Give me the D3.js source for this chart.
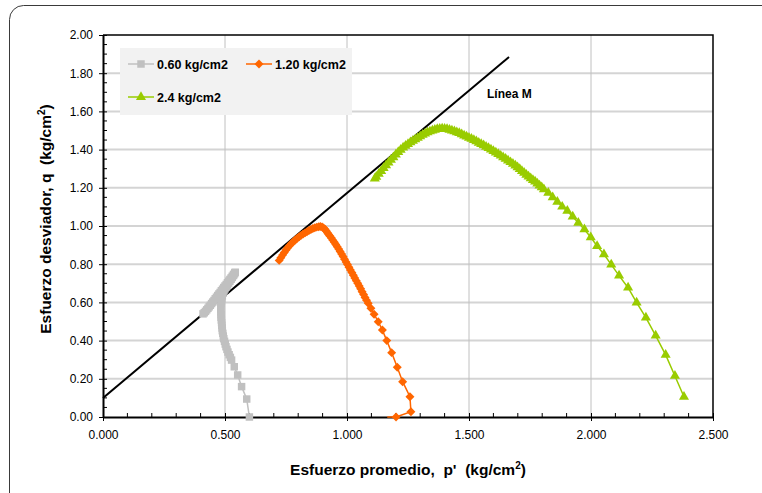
<!DOCTYPE html>
<html>
<head>
<meta charset="utf-8">
<script src="https://cdn.jsdelivr.net/npm/d3@7"></script>
<style>
  html, body { margin: 0; padding: 0; background: #ffffff; }
  svg { display: block; font-family: "Liberation Sans", Arial, sans-serif; }
  .pre { white-space: pre; }
</style>
</head>
<body>
<svg id="chart" width="762" height="493"></svg>
<script>
// ---------- DATA ----------
const xTicks = [0, 0.5, 1.0, 1.5, 2.0, 2.5];
const yTicks = [0, 0.2, 0.4, 0.6, 0.8, 1.0, 1.2, 1.4, 1.6, 1.8, 2.0];

const seriesNames = ["0.60 kg/cm2", "1.20 kg/cm2", "2.4 kg/cm2"];

// p', q for confinement 0.60 kg/cm2
const greyP = [0.600, 0.589, 0.568, 0.552, 0.538, 0.527, 0.522, 0.517, 0.512, 0.508, 0.504, 0.501, 0.498, 0.495, 0.493, 0.491, 0.489, 0.488, 0.487, 0.486, 0.485, 0.484, 0.484, 0.483, 0.483, 0.483, 0.484, 0.485, 0.487, 0.489, 0.492, 0.496, 0.500, 0.505, 0.510, 0.515, 0.520, 0.525, 0.530, 0.535, 0.539, 0.542, 0.540, 0.535, 0.530, 0.525, 0.520, 0.515, 0.510, 0.505, 0.500, 0.495, 0.490, 0.485, 0.480, 0.475, 0.470, 0.465, 0.460, 0.455, 0.450, 0.445, 0.440, 0.435, 0.430, 0.425, 0.420, 0.415, 0.410];
const greyQ = [0.000, 0.094, 0.159, 0.220, 0.263, 0.298, 0.312, 0.326, 0.340, 0.354, 0.368, 0.382, 0.396, 0.410, 0.424, 0.438, 0.452, 0.466, 0.480, 0.494, 0.508, 0.522, 0.536, 0.550, 0.564, 0.578, 0.592, 0.606, 0.620, 0.634, 0.648, 0.660, 0.671, 0.681, 0.691, 0.701, 0.711, 0.721, 0.731, 0.741, 0.750, 0.758, 0.755, 0.746, 0.737, 0.728, 0.720, 0.711, 0.703, 0.694, 0.686, 0.678, 0.669, 0.661, 0.652, 0.644, 0.636, 0.627, 0.619, 0.610, 0.602, 0.594, 0.585, 0.577, 0.569, 0.561, 0.553, 0.546, 0.540];

// p', q for confinement 1.20 kg/cm2
const orangeP = [1.165, 1.201, 1.262, 1.258, 1.228, 1.206, 1.183, 1.163, 1.145, 1.128, 1.111, 1.098, 1.087, 1.080, 1.074, 1.068, 1.062, 1.056, 1.050, 1.044, 1.038, 1.032, 1.026, 1.020, 1.014, 1.008, 1.002, 0.996, 0.990, 0.984, 0.978, 0.972, 0.966, 0.960, 0.954, 0.948, 0.942, 0.936, 0.930, 0.925, 0.920, 0.915, 0.910, 0.904, 0.898, 0.891, 0.884, 0.876, 0.868, 0.860, 0.852, 0.844, 0.836, 0.828, 0.820, 0.812, 0.804, 0.796, 0.788, 0.780, 0.772, 0.764, 0.757, 0.750, 0.743, 0.736, 0.729, 0.722];
const orangeQ = [0.000, 0.000, 0.028, 0.106, 0.185, 0.260, 0.337, 0.400, 0.455, 0.499, 0.538, 0.569, 0.595, 0.611, 0.626, 0.641, 0.656, 0.671, 0.686, 0.700, 0.714, 0.728, 0.742, 0.756, 0.770, 0.784, 0.798, 0.812, 0.826, 0.840, 0.853, 0.866, 0.879, 0.891, 0.903, 0.915, 0.926, 0.937, 0.947, 0.956, 0.965, 0.974, 0.983, 0.990, 0.995, 0.997, 0.996, 0.994, 0.991, 0.987, 0.982, 0.976, 0.970, 0.964, 0.958, 0.951, 0.944, 0.936, 0.927, 0.918, 0.908, 0.897, 0.886, 0.874, 0.861, 0.848, 0.834, 0.820];

// p', q for confinement 2.4 kg/cm2
const greenP = [2.381, 2.344, 2.306, 2.265, 2.225, 2.187, 2.152, 2.115, 2.083, 2.053, 2.025, 1.999, 1.973, 1.948, 1.925, 1.903, 1.882, 1.862, 1.843, 1.825, 1.807, 1.798, 1.789, 1.780, 1.771, 1.762, 1.753, 1.744, 1.735, 1.726, 1.717, 1.708, 1.699, 1.690, 1.680, 1.670, 1.660, 1.650, 1.640, 1.630, 1.620, 1.610, 1.600, 1.590, 1.580, 1.570, 1.560, 1.550, 1.540, 1.530, 1.520, 1.510, 1.500, 1.490, 1.480, 1.470, 1.460, 1.450, 1.440, 1.430, 1.420, 1.410, 1.400, 1.390, 1.380, 1.370, 1.360, 1.350, 1.340, 1.330, 1.320, 1.310, 1.300, 1.290, 1.280, 1.270, 1.260, 1.250, 1.240, 1.230, 1.220, 1.210, 1.200, 1.190, 1.180, 1.170, 1.160, 1.150, 1.140, 1.130, 1.120, 1.114];
const greenQ = [0.106, 0.215, 0.325, 0.426, 0.520, 0.599, 0.677, 0.740, 0.798, 0.852, 0.895, 0.941, 0.982, 1.017, 1.049, 1.079, 1.101, 1.127, 1.150, 1.174, 1.192, 1.202, 1.212, 1.222, 1.232, 1.241, 1.250, 1.259, 1.268, 1.278, 1.288, 1.298, 1.307, 1.316, 1.325, 1.334, 1.343, 1.352, 1.360, 1.368, 1.376, 1.384, 1.392, 1.400, 1.408, 1.415, 1.422, 1.429, 1.436, 1.443, 1.450, 1.456, 1.462, 1.468, 1.474, 1.480, 1.486, 1.491, 1.496, 1.500, 1.504, 1.507, 1.509, 1.510, 1.509, 1.507, 1.504, 1.500, 1.495, 1.490, 1.484, 1.477, 1.470, 1.462, 1.454, 1.446, 1.438, 1.429, 1.420, 1.410, 1.399, 1.387, 1.374, 1.360, 1.346, 1.332, 1.318, 1.303, 1.288, 1.273, 1.258, 1.248];

// Critical state line (Línea M)
const lineMP = [0.000, 1.664];
const lineMQ = [0.100, 1.885];

// ---------- CHART ----------
const svg = d3.select("#chart");
const x = d3.scaleLinear().domain([0, 2.5]).range([103, 713]);
const y = d3.scaleLinear().domain([0, 2.0]).range([417, 35]);

// outer rounded frame
svg.append("rect")
  .attr("x", 9.5).attr("y", 5.5).attr("width", 800).attr("height", 520)
  .attr("rx", 14).attr("fill", "#ffffff").attr("stroke", "#3a3a3a").attr("stroke-width", 1);

// gridlines
svg.append("g").selectAll("line").data(yTicks.slice(1, -1)).join("line")
  .attr("x1", x(0)).attr("x2", x(2.5))
  .attr("y1", d => y(d)).attr("y2", d => y(d))
  .attr("stroke", "#d4d4d4").attr("stroke-width", 2);
svg.append("g").selectAll("line").data(xTicks.slice(1, -1)).join("line")
  .attr("x1", d => x(d)).attr("x2", d => x(d))
  .attr("y1", y(0)).attr("y2", y(2))
  .attr("stroke", "#c0c0c0").attr("stroke-width", 1);

// top & right border
svg.append("path")
  .attr("d", `M${x(0)},${y(2)}H${x(2.5)}V${y(0)}`)
  .attr("fill", "none").attr("stroke", "#000").attr("stroke-width", 1.5);

// minor ticks
const xMinor = d3.range(1, 25).map(i => i / 10).filter(v => Math.abs(v * 2 - Math.round(v * 2)) > 1e-6);
svg.append("g").selectAll("line").data(xMinor).join("line")
  .attr("x1", d => x(d)).attr("x2", d => x(d))
  .attr("y1", y(0) - 4).attr("y2", y(0))
  .attr("stroke", "#000").attr("stroke-width", 1);
const yMinor = d3.range(1, 40).map(i => i / 20).filter(v => Math.abs(v * 5 - Math.round(v * 5)) > 1e-6);
svg.append("g").selectAll("line").data(yMinor).join("line")
  .attr("x1", x(0)).attr("x2", x(0) + 4)
  .attr("y1", d => y(d)).attr("y2", d => y(d))
  .attr("stroke", "#000").attr("stroke-width", 1);

// axes
const xAxis = d3.axisBottom(x).tickValues(xTicks).tickFormat(d3.format(".3f")).tickSizeInner(4).tickSizeOuter(0).tickPadding(9);
const gx = svg.append("g").attr("transform", `translate(0,${y(0)})`).call(xAxis);
gx.select(".domain").attr("stroke", "#000").attr("stroke-width", 2);
gx.selectAll(".tick line").attr("y1", -4).attr("stroke", "#000");
gx.selectAll("text").attr("font-size", 12).attr("fill", "#000").attr("font-family", "Liberation Sans, Arial, sans-serif");

const yAxis = d3.axisLeft(y).tickValues(yTicks).tickFormat(d3.format(".2f")).tickSizeInner(4).tickSizeOuter(0).tickPadding(6);
const gy = svg.append("g").attr("transform", `translate(${x(0)},0)`).call(yAxis);
gy.select(".domain").attr("stroke", "#000").attr("stroke-width", 2);
gy.selectAll(".tick line").attr("x1", 4).attr("stroke", "#000");
gy.selectAll("text").attr("font-size", 12).attr("fill", "#000").attr("font-family", "Liberation Sans, Arial, sans-serif");

// Línea M
const lineGen = d3.line().x(d => x(d[0])).y(d => y(d[1]));
svg.append("path")
  .attr("d", lineGen(d3.zip(lineMP, lineMQ)))
  .attr("fill", "none").attr("stroke", "#000").attr("stroke-width", 2);

// series
const series = [
  { name: seriesNames[0], p: greyP, q: greyQ, color: "#c0c0c0", shape: d3.symbolSquare, size: 56, rot: 0, skipFirst: false },
  { name: seriesNames[1], p: orangeP, q: orangeQ, color: "#ff6600", shape: d3.symbolSquare, size: 40, rot: 45, skipFirst: true },
  { name: seriesNames[2], p: greenP, q: greenQ, color: "#99cc00", shape: d3.symbolTriangle, size: 44, rot: 0, skipFirst: false }
];

series.forEach(s => {
  const pts = d3.zip(s.p, s.q);
  const g = svg.append("g");
  g.append("path").attr("d", lineGen(pts))
    .attr("fill", "none").attr("stroke", s.color).attr("stroke-width", 1.5);
  g.selectAll("path.m").data(s.skipFirst ? pts.slice(1) : pts).join("path")
    .attr("class", "m")
    .attr("d", d3.symbol().type(s.shape).size(s.size))
    .attr("transform", d => `translate(${x(d[0])},${y(d[1])}) rotate(${s.rot})`)
    .attr("fill", s.color);
});

// legend
const lg = svg.append("g");
lg.append("rect").attr("x", 120).attr("y", 48).attr("width", 232).attr("height", 67).attr("fill", "#f2f2f2");
const legPos = [[128, 64], [246, 64], [128, 97]];
series.forEach((s, i) => {
  const [lx, ly] = legPos[i];
  lg.append("line").attr("x1", lx).attr("x2", lx + 26).attr("y1", ly).attr("y2", ly)
    .attr("stroke", s.color).attr("stroke-width", 1.5);
  lg.append("path").attr("d", d3.symbol().type(s.shape).size(s.size))
    .attr("transform", `translate(${lx + 13},${ly}) rotate(${s.rot})`).attr("fill", s.color);
  lg.append("text").attr("x", lx + 29).attr("y", ly + 4.5)
    .attr("font-size", 12.5).attr("font-weight", "bold").attr("fill", "#000").text(s.name);
});

// Línea M label
svg.append("text").attr("x", 487).attr("y", 98).attr("font-size", 12).attr("font-weight", "bold").text("Línea M");

// axis titles
const xt = svg.append("text").attr("class", "pre").attr("x", 408).attr("y", 475).attr("text-anchor", "middle")
  .attr("font-size", 15.5).attr("font-weight", "bold");
xt.append("tspan").text("Esfuerzo promedio,  p'  (kg/cm");
xt.append("tspan").attr("font-size", 10).attr("dy", -6).text("2");
xt.append("tspan").attr("dy", 6).text(")");

const yt = svg.append("text").attr("class", "pre").attr("transform", "translate(51,219) rotate(-90)").attr("text-anchor", "middle")
  .attr("font-size", 15.5).attr("font-weight", "bold");
yt.append("tspan").text("Esfuerzo desviador, q  (kg/cm");
yt.append("tspan").attr("font-size", 10).attr("dy", -6).text("2");
yt.append("tspan").attr("dy", 6).text(")");
</script>
</body>
</html>
